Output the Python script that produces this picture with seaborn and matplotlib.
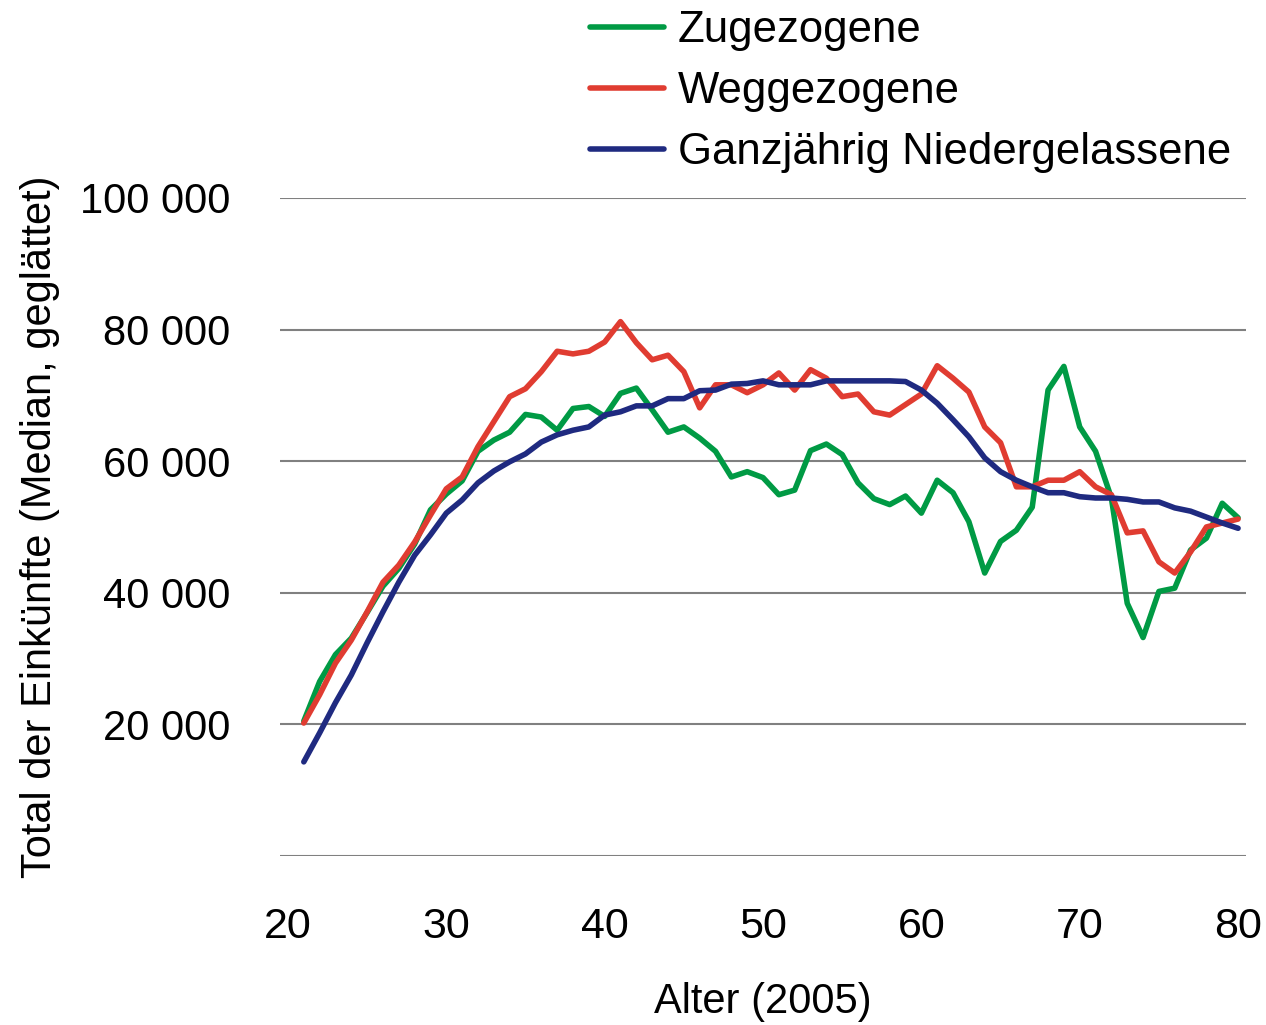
import numpy as np
import pandas as pd
import matplotlib
matplotlib.use("Agg")
import matplotlib.pyplot as plt
from matplotlib.ticker import FuncFormatter
import seaborn as sns

# -------------------------------
# Data
# -------------------------------
ages = list(range(21, 81))

zugezogene = [
    20500, 26500, 30600, 33100, 37000, 41000, 43700, 47400, 52600, 55000,
    57000, 61500, 63200, 64400, 67100, 66700, 64700, 68000, 68300, 66800,
    70300, 71100, 67800, 64400, 65200, 63500, 61500, 57600, 58400, 57500,
    54900, 55600, 61600, 62600, 61000, 56700, 54300, 53400, 54700, 52100,
    57100, 55200, 50800, 43000, 47800, 49500, 53000, 70800, 74400, 65200,
    61500, 54400, 38400, 33200, 40200, 40700, 46500, 48300, 53600, 51400,
]

weggezogene = [
    20200, 24500, 29300, 32800, 37100, 41600, 44200, 47700, 51800, 55800,
    57600, 62200, 66000, 69800, 71000, 73600, 76700, 76300, 76700, 78100,
    81200, 78000, 75400, 76100, 73600, 68100, 71600, 71600, 70400, 71600,
    73400, 70800, 73900, 72600, 69800, 70200, 67500, 67000, 68600, 70200,
    74500, 72600, 70500, 65200, 62800, 56100, 56100, 57100, 57100, 58400,
    56100, 54900, 49100, 49400, 44700, 43000, 46200, 50000, 50600, 51200,
]

niedergelassene = [
    14300, 18700, 23300, 27500, 32400, 37100, 41600, 45700, 48800, 52100,
    54100, 56700, 58500, 59900, 61100, 62900, 64000, 64700, 65200, 67000,
    67500, 68400, 68400, 69500, 69500, 70700, 70800, 71700, 71800, 72200,
    71600, 71600, 71600, 72200, 72200, 72200, 72200, 72200, 72100, 70800,
    68800, 66300, 63700, 60500, 58400, 57100, 56100, 55200, 55200, 54600,
    54400, 54400, 54200, 53800, 53800, 52900, 52400, 51500, 50600, 49800,
]

series_names = ["Zugezogene", "Weggezogene", "Ganzjährig Niedergelassene"]
colors = ["#009a44", "#e03c31", "#1f2a80"]

df = pd.DataFrame({
    "Alter": ages * 3,
    "Einkuenfte": zugezogene + weggezogene + niedergelassene,
    "Gruppe": np.repeat(series_names, len(ages)),
})

# -------------------------------
# Style
# -------------------------------
sns.set_theme(style="white")
plt.rcParams["font.family"] = ["Liberation Sans", "DejaVu Sans"]
plt.rcParams["text.color"] = "black"
plt.rcParams["axes.labelcolor"] = "black"

fig = plt.figure(figsize=(12.66, 10.25), dpi=100)
ax = fig.add_axes([0.2212, 0.1649, 0.763, 0.642])

sns.lineplot(data=df, x="Alter", y="Einkuenfte", hue="Gruppe",
             hue_order=series_names, palette=colors, linewidth=4,
             legend=False, ax=ax)

# -------------------------------
# Axes
# -------------------------------
ax.set_xlim(19.5, 80.5)
ax.set_ylim(0, 100000)
ax.set_xticks(range(20, 81, 10))
ax.set_yticks(range(0, 100001, 20000))
ax.yaxis.set_major_formatter(
    FuncFormatter(lambda v, p: "" if v == 0 else f"{v:,.0f}".replace(",", " "))
)
ax.grid(axis="y", color="#808080", linewidth=1.5)
ax.grid(axis="x", visible=False)
for s in ax.spines.values():
    s.set_visible(False)

ax.tick_params(axis="y", length=0, pad=36, labelsize=30, colors="black")
ax.tick_params(axis="x", length=0, pad=37, labelsize=31, colors="black")

ax.set_xlabel("Alter (2005)", fontsize=30, labelpad=25)
ax.set_ylabel("Total der Einkünfte (Median, geglättet)", fontsize=30,
              labelpad=14)

# -------------------------------
# Legend (above plot)
# -------------------------------
fig.legend(ax.get_lines(), series_names, loc="upper left",
           bbox_to_anchor=(590 / 1266, 1 - 10 / 1025), frameon=False,
           fontsize=31.5, handlelength=1.7, handletextpad=0.3,
           labelspacing=0.46, borderpad=0, borderaxespad=0,
           labelcolor="black")

plt.savefig("out.png", dpi=100)
